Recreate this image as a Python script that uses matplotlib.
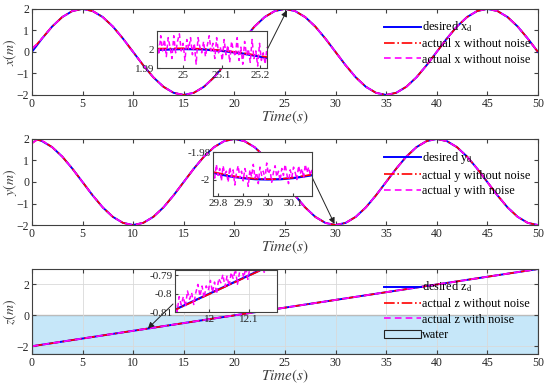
import numpy as np
import matplotlib
matplotlib.use("Agg")
import matplotlib.pyplot as plt
from matplotlib.patches import Patch

plt.rcParams['font.family'] = 'serif'
plt.rcParams['font.serif'] = ['Liberation Serif', 'DejaVu Serif']
plt.rcParams['mathtext.fontset'] = 'stix'

# temps commun des courbes principales
t = [0, 0.5] + list(range(1, 51))

# x : consigne et reponse
x_des = [0, 0.31, 0.62, 1.18, 1.62, 1.90, 2.00, 1.90, 1.62, 1.18, 0.62,
         0, -0.62, -1.18, -1.62, -1.90, -2.00, -1.90, -1.62, -1.18, -0.62,
         0, 0.62, 1.18, 1.62, 1.90, 2.00, 1.90, 1.62, 1.18, 0.62,
         0, -0.62, -1.18, -1.62, -1.90, -2.00, -1.90, -1.62, -1.18, -0.62,
         0, 0.62, 1.18, 1.62, 1.90, 2.00, 1.90, 1.62, 1.18, 0.62, 0]
x_act = [0.15, 0.36, 0.63, 1.18, 1.62, 1.90, 2.00, 1.90, 1.62, 1.18, 0.62,
         0, -0.62, -1.18, -1.62, -1.90, -2.00, -1.90, -1.62, -1.18, -0.62,
         0, 0.62, 1.18, 1.62, 1.90, 2.00, 1.90, 1.62, 1.18, 0.62,
         0, -0.62, -1.18, -1.62, -1.90, -2.00, -1.90, -1.62, -1.18, -0.62,
         0, 0.62, 1.18, 1.62, 1.90, 2.00, 1.90, 1.62, 1.18, 0.62, 0]

# y : consigne et reponse
y_des = [2.00, 1.98, 1.90, 1.62, 1.18, 0.62, 0, -0.62, -1.18, -1.62, -1.90,
         -2.00, -1.90, -1.62, -1.18, -0.62, 0, 0.62, 1.18, 1.62, 1.90,
         2.00, 1.90, 1.62, 1.18, 0.62, 0, -0.62, -1.18, -1.62, -1.90,
         -2.00, -1.90, -1.62, -1.18, -0.62, 0, 0.62, 1.18, 1.62, 1.90,
         2.00, 1.90, 1.62, 1.18, 0.62, 0, -0.62, -1.18, -1.62, -1.90, -2.00]
y_act = [1.80, 1.96, 1.92, 1.62, 1.18, 0.62, 0, -0.62, -1.18, -1.62, -1.90,
         -2.00, -1.90, -1.62, -1.18, -0.62, 0, 0.62, 1.18, 1.62, 1.90,
         2.00, 1.90, 1.62, 1.18, 0.62, 0, -0.62, -1.18, -1.62, -1.90,
         -2.00, -1.90, -1.62, -1.18, -0.62, 0, 0.62, 1.18, 1.62, 1.90,
         2.00, 1.90, 1.62, 1.18, 0.62, 0, -0.62, -1.18, -1.62, -1.90, -2.00]

# z : droite
t_z = [0, 50]
z_des = [-2.0, 3.0]
z_act = [-2.0, 3.0]

# zooms
t_in1 = [24.93, 25.0, 25.05, 25.1, 25.15, 25.22]
x_in1_des = [1.9995, 2.0, 1.9998, 1.9990, 1.9978, 1.9952]
x_in1_act = [2.0002, 2.0004, 2.0001, 1.9993, 1.9981, 1.9957]
x_in1_noise = [2.004, 1.997, 2.007, 1.999, 2.005, 1.996, 2.006, 2.001, 1.995, 2.007,
               1.998, 2.004, 2.008, 1.999, 2.003, 1.994, 2.005, 2.000, 2.006, 1.997,
               2.003, 1.992, 2.006, 2.001, 1.998, 2.004, 1.996, 2.002, 2.007, 1.999,
               2.003, 1.995, 2.006, 1.998, 2.001, 1.994, 2.005, 1.997, 2.002, 1.993,
               2.004, 1.999, 1.996, 2.006, 1.994, 2.001, 1.992, 2.004, 1.997, 2.000,
               1.993, 2.005, 1.995, 1.999, 1.991, 2.003, 1.994, 1.998, 1.992, 2.001]

t_in2 = [29.78, 29.85, 29.9, 29.95, 30.0, 30.05, 30.1, 30.18]
y_in2_des = [-1.9952, -1.9978, -1.9990, -1.9998, -2.0, -1.9998, -1.9990, -1.9968]
y_in2_act = [-1.9945, -1.9972, -1.9986, -1.9995, -1.9998, -1.9996, -1.9987, -1.9963]
y_in2_noise = [-1.993, -1.999, -1.989, -1.997, -1.992, -2.001, -1.990, -1.996, -1.994, -2.002,
               -1.991, -1.998, -1.993, -2.004, -1.995, -1.990, -1.999, -1.994, -2.001, -1.992,
               -1.997, -2.005, -1.993, -1.998, -1.989, -1.999, -1.995, -2.003, -1.991, -1.997,
               -1.994, -2.000, -1.988, -1.996, -1.993, -2.002, -1.995, -1.990, -1.998, -1.994,
               -2.001, -1.992, -1.997, -1.989, -1.996, -2.003, -1.993, -1.998, -1.991, -1.995,
               -2.000, -1.990, -1.996, -1.992, -1.999, -1.989, -1.995, -1.991, -1.997, -1.993]

t_in3 = [11.9, 12.2]
z_in3_des = [-0.81, -0.78]
z_in3_act = [-0.8102, -0.7802]
z_in3_noise = [-0.8047, -0.8102, -0.8016, -0.8061, -0.8016, -0.8070, -0.7985, -0.8030, -0.7995, -0.8059,
               -0.7994, -0.7949, -0.8013, -0.7958, -0.8023, -0.7957, -0.7982, -0.7927, -0.7992, -0.7936,
               -0.8001, -0.7916, -0.7940, -0.7895, -0.7960, -0.7904, -0.7959, -0.7884, -0.7919, -0.7863,
               -0.7948, -0.7883, -0.7857, -0.7912, -0.7857, -0.7921, -0.7856, -0.7821, -0.7876, -0.7830,
               -0.7885, -0.7830, -0.7844, -0.7889, -0.7824, -0.7868, -0.7823, -0.7878, -0.7823, -0.7857]

BLUE = '#0000FF'
RED = '#FF0000'
MAG = '#FF00FF'
GREY = '#404040'
WATER = '#C6E7F9'


def style_axes(ax, size=8.5):
    for s in ax.spines.values():
        s.set_color(GREY)
        s.set_linewidth(0.8)
    ax.tick_params(direction='in', top=True, right=True, length=3,
                   labelsize=size, colors=GREY, labelcolor='#262626', pad=2)


def draw_main(ax, tt, des, act, noisy, labels):
    ax.plot(tt, des, color=BLUE, lw=1.4, label=labels[0])
    ax.plot(tt, act, color=RED, lw=1.2, ls='-.', label=labels[1])
    ax.plot(tt, noisy, color=MAG, lw=1.2, ls=(0, (4, 2.5)), label=labels[2])


def draw_inset(ax, tt, des, act, tn, noisy, xlim, ylim, xt, yt, xtl, ytl):
    ax.plot(tt, des, color=BLUE, lw=1.6)
    ax.plot(tt, act, color=RED, lw=1.2, ls='-.')
    ax.plot(tn, noisy, color=MAG, lw=1.1, ls=(0, (3, 2)))
    ax.set_xlim(*xlim)
    ax.set_ylim(*ylim)
    ax.set_xticks(xt)
    ax.set_xticklabels(xtl)
    ax.set_yticks(yt)
    ax.set_yticklabels(ytl)
    style_axes(ax, 8)
    ax.tick_params(top=False, right=False, length=2)


def labels(ax, name):
    ax.set_ylabel(name, fontsize=10, color=GREY)
    ax.yaxis.set_label_coords(-0.026, 0.5)
    ax.set_xlabel('$Time(s)$', fontsize=11, color=GREY, labelpad=-1)


fig = plt.figure(figsize=(5.5, 3.86), dpi=100)

leg_kw = dict(loc='upper left', frameon=False, fontsize=8.8, handlelength=3.0,
              handletextpad=0.15, labelspacing=0.3, borderaxespad=0)


def arrow(ax, xy, start):
    ax.annotate('', xy=xy, xytext=(start[0] / 550, 1 - start[1] / 386),
                textcoords='figure fraction',
                arrowprops=dict(arrowstyle='-|>', color='#222222', lw=0.7,
                                mutation_scale=9, shrinkA=0, shrinkB=0))


# ---------- x ----------
ax1 = fig.add_axes([0.058, 0.754, 0.92, 0.223])
draw_main(ax1, t, x_des, x_act, x_act,
          [r'desired x$_\mathrm{d}$', 'actual x without noise', 'actual x without noise'])
ax1.set_xlim(0, 50)
ax1.set_ylim(-2, 2)
ax1.set_xticks(range(0, 51, 5))
ax1.set_yticks([-2, -1, 0, 1, 2])
labels(ax1, '$x(m)$')
style_axes(ax1)
ax1.legend(bbox_to_anchor=(0.686, 0.93), **leg_kw)
arrow(ax1, (25.2, 1.93), (267, 50))

in1 = fig.add_axes([157 / 550, 1 - 68 / 386, 110 / 550, 37 / 386])
t_n1 = np.linspace(24.932, 25.218, len(x_in1_noise))
draw_inset(in1, t_in1, x_in1_des, x_in1_act, t_n1, x_in1_noise,
           (24.932, 25.218), (1.99, 2.0095), [25, 25.1, 25.2], [1.99, 2],
           ['25', '25.1', '25.2'], ['1.99', '2'])

# ---------- y ----------
ax2 = fig.add_axes([0.058, 0.417, 0.92, 0.223])
draw_main(ax2, t, y_des, y_act, y_act,
          [r'desired y$_\mathrm{d}$', 'actual y without noise', 'actual y with noise'])
ax2.set_xlim(0, 50)
ax2.set_ylim(-2, 2)
ax2.set_xticks(range(0, 51, 5))
ax2.set_yticks([-2, -1, 0, 1, 2])
labels(ax2, '$y(m)$')
style_axes(ax2)
ax2.legend(bbox_to_anchor=(0.686, 0.93), **leg_kw)
arrow(ax2, (29.9, -1.95), (311, 175))

in2 = fig.add_axes([213 / 550, 1 - 196 / 386, 99 / 550, 44 / 386])
t_n2 = np.linspace(29.78, 30.176, len(y_in2_noise))
draw_inset(in2, t_in2, y_in2_des, y_in2_act, t_n2, y_in2_noise,
           (29.78, 30.176), (-2.012, -1.98), [29.8, 29.9, 30, 30.1], [-2, -1.98],
           ['29.8', '29.9', '30', '30.1'], ['-2', '-1.98'])

# ---------- z ----------
ax3 = fig.add_axes([0.058, 0.083, 0.92, 0.220])
ax3.axhspan(-2.5, 0, facecolor=WATER, edgecolor='#222222', lw=0.8, zorder=0.5)
draw_main(ax3, t_z, z_des, z_act, z_act,
          [r'desired z$_\mathrm{d}$', 'actual z without noise', 'actual z with noise'])
ax3.set_xlim(0, 50)
ax3.set_ylim(-2.5, 3)
ax3.set_xticks(range(0, 51, 5))
ax3.set_yticks([-2, 0, 2])
ax3.grid(True, color='#d9d9d9', lw=0.6)
labels(ax3, '$z(m)$')
style_axes(ax3)
h, l = ax3.get_legend_handles_labels()
h.append(Patch(facecolor=WATER, edgecolor='#222222', lw=0.8))
l.append('water')
ax3.legend(h, l, bbox_to_anchor=(0.686, 0.93), **leg_kw)
arrow(ax3, (11.46, -0.85), (173, 304))

in3 = fig.add_axes([175 / 550, 1 - 312 / 386, 102 / 550, 42 / 386])
t_n3 = np.linspace(11.913, 12.172, len(z_in3_noise))
draw_inset(in3, t_in3, z_in3_des, z_in3_act, t_n3, z_in3_noise,
           (11.913, 12.172), (-0.8087, -0.787), [12, 12.1], [-0.81, -0.8, -0.79],
           ['12', '12.1'], ['-0.81', '-0.8', '-0.79'])
in3.grid(True, color='#d9d9d9', lw=0.6)

fig.savefig('out.png', dpi=100)
